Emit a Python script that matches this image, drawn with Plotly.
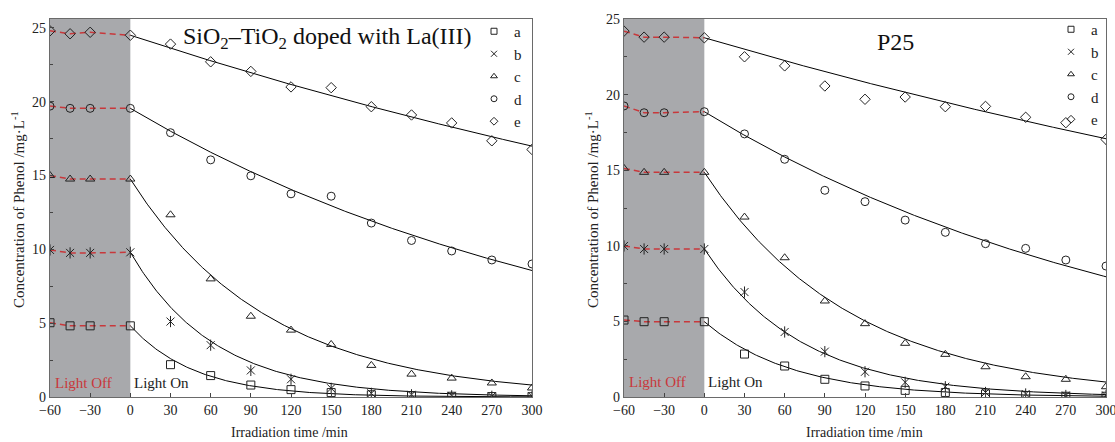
import numpy as np
import plotly.graph_objects as go

# ---------------- data ----------------
t_dark = [-60, -45, -30, 0]
t_light = [30, 60, 90, 120, 150, 180, 210, 240, 270, 300]
series = ["a", "b", "c", "d", "e"]
symbols = ["square-open", "x-thin-open", "triangle-up-open", "circle-open", "diamond-open"]

# Left panel: SiO2-TiO2 doped with La(III)
L_dark = {
    "a": [5.03, 4.82, 4.82, 4.82],
    "b": [9.96, 9.76, 9.76, 9.80],
    "c": [15.0, 14.76, 14.76, 14.76],
    "d": [19.7, 19.55, 19.55, 19.55],
    "e": [24.8, 24.6, 24.7, 24.5],
}
L_light = {
    "a": [2.19, 1.45, 0.81, 0.50, 0.30, 0.15, 0.08, 0.05, 0.03, 0.02],
    "b": [5.11, 3.51, 1.80, 1.20, 0.59, 0.25, 0.15, 0.08, 0.05, 0.05],
    "c": [12.34, 8.0, 5.47, 4.53, 3.56, 2.14, 1.55, 1.28, 0.95, 0.61],
    "d": [17.9, 16.06, 14.98, 13.76, 13.6, 11.78, 10.6, 9.89, 9.28, 9.01],
    "e": [23.9, 22.7, 22.05, 21.0, 20.95, 19.66, 19.1, 18.56, 17.35, 16.76],
}
L_k = {"a": 0.0206, "b": 0.0159, "c": 0.00968, "d": 0.00275, "e": 0.00122}

# Right panel: P25
R_dark = {
    "a": [5.09, 4.98, 4.98, 4.98],
    "b": [9.99, 9.79, 9.79, 9.79],
    "c": [15.12, 14.86, 14.86, 14.86],
    "d": [19.25, 18.8, 18.8, 18.87],
    "e": [24.2, 23.8, 23.8, 23.76],
}
R_light = {
    "a": [2.84, 2.05, 1.17, 0.73, 0.44, 0.30, 0.20, 0.10, 0.05, 0.05],
    "b": [6.94, 4.30, 3.00, 1.67, 0.97, 0.68, 0.30, 0.20, 0.10, 0.10],
    "c": [11.9, 9.21, 6.35, 4.85, 3.55, 2.82, 2.0, 1.34, 1.17, 0.68],
    "d": [17.4, 15.72, 13.67, 12.92, 11.7, 10.89, 10.14, 9.83, 9.06, 8.66],
    "e": [22.5, 21.9, 20.57, 19.69, 19.84, 19.2, 19.22, 18.5, 18.14, 17.04],
}
R_k = {"a": 0.0152, "b": 0.0137, "c": 0.00903, "d": 0.00288, "e": 0.0011}

x_ticks = [-60, -30, 0, 30, 60, 90, 120, 150, 180, 210, 240, 270, 300]

# ---------------- figure ----------------
W, H = 1115, 442
FONT = "Liberation Serif"
RED = "#c8383b"
INK = "#222"

def px(xp):
    return xp / W

def py(yp):
    return 1 - yp / H

fig = go.Figure()

panels = [
    ("x", "y", L_dark, L_light, L_k, "legend"),
    ("x2", "y2", R_dark, R_light, R_k, "legend2"),
]

t_fit = np.linspace(0, 300, 301)
for xa, ya, dark, light, kk, leg in panels:
    # dark phase dashed red
    for s in series:
        fig.add_trace(go.Scatter(x=t_dark, y=dark[s], xaxis=xa, yaxis=ya, mode="lines",
                                 line=dict(color=RED, width=1.5, dash="6px,4px"),
                                 showlegend=False, hoverinfo="skip"))
    # fitted first-order curves
    for s in series:
        c0 = dark[s][-1]
        fig.add_trace(go.Scatter(x=t_fit, y=c0 * np.exp(-kk[s] * t_fit), xaxis=xa, yaxis=ya,
                                 mode="lines", line=dict(color="black", width=1),
                                 showlegend=False, hoverinfo="skip"))
    # markers
    for s, sym in zip(series, symbols):
        fig.add_trace(go.Scatter(x=t_dark + t_light, y=dark[s] + light[s], xaxis=xa, yaxis=ya,
                                 mode="markers", showlegend=False,
                                 marker=dict(symbol=sym, size=8, color=INK,
                                             line=dict(width=1, color=INK))))
        if s == "b":  # six-armed asterisk: add the vertical bar
            fig.add_trace(go.Scatter(x=t_dark + t_light, y=dark[s] + light[s], xaxis=xa, yaxis=ya,
                                     mode="markers", showlegend=False, hoverinfo="skip",
                                     marker=dict(symbol="line-ns-open", size=8, color=INK,
                                                 line=dict(width=1, color=INK))))
        # compact legend entry
        fig.add_trace(go.Scatter(x=[None], y=[None], xaxis=xa, yaxis=ya, mode="markers",
                                 name=s, legend=leg,
                                 marker=dict(symbol=sym, size=6, color=INK,
                                             line=dict(width=1, color=INK))))

ydom = [py(397), py(19)]
axis_common = dict(showline=True, linecolor="#6a6a6a", linewidth=1.2, mirror=True,
                   ticks="inside", ticklen=4, tickcolor="#444", showgrid=False, zeroline=False,
                   automargin=False, ticklabeloverflow="allow",
                   tickfont=dict(family=FONT, size=14, color=INK))

leg_common = dict(xanchor="right", yanchor="top", bgcolor="rgba(0,0,0,0)",
                  font=dict(family=FONT, size=15, color=INK), itemwidth=30, tracegroupgap=0)

fig.update_layout(
    width=W, height=H, margin=dict(l=0, r=0, t=0, b=0, autoexpand=False),
    paper_bgcolor="white", plot_bgcolor="white",
    font=dict(family=FONT, color=INK),
    xaxis=dict(domain=[px(50), px(532)], range=[-60, 300], tickvals=x_ticks, anchor="y", **axis_common),
    yaxis=dict(domain=ydom, range=[0, 25.6], tickvals=[0, 5, 10, 15, 20, 25], anchor="x",
               minor=dict(dtick=2.5, ticks="inside", ticklen=3, tickcolor="#444"), **axis_common),
    xaxis2=dict(domain=[px(624), px(1106)], range=[-60, 300], tickvals=x_ticks, anchor="y2", **axis_common),
    yaxis2=dict(domain=ydom, range=[0, 25], tickvals=[0, 5, 10, 15, 20, 25], anchor="x2",
                minor=dict(dtick=2.5, ticks="inside", ticklen=3, tickcolor="#444"), **axis_common),
    legend=dict(x=px(527), y=py(15), **leg_common),
    legend2=dict(x=px(1104), y=py(13), **leg_common),
    showlegend=True,
)

# grey "light off" region
for xr, yr in [("x", "y"), ("x2", "y2")]:
    fig.add_shape(type="rect", xref=xr, yref=f"{yr} domain", x0=-60, x1=0, y0=0, y1=1,
                  fillcolor="#a8a9ac", line=dict(width=0), layer="below")

ann = []
for xr, yr in [("x", "y"), ("x2", "y2")]:
    ann.append(dict(x=-58, y=0.3, xref=xr, yref=yr, text="Light Off", showarrow=False,
                    xanchor="left", yanchor="bottom", font=dict(family=FONT, size=15, color=RED)))
    ann.append(dict(x=1, y=0.3, xref=xr, yref=yr, text="Light On", showarrow=False,
                    xanchor="left", yanchor="bottom", font=dict(family=FONT, size=15, color=INK)))

ann.append(dict(x=px(327), y=py(38), xref="paper", yref="paper", xanchor="center", yanchor="middle",
                text="SiO<sub>2</sub>–TiO<sub>2</sub> doped with La(III)", showarrow=False,
                font=dict(family=FONT, size=24, color="#111")))
ann.append(dict(x=px(895), y=py(42), xref="paper", yref="paper", xanchor="center", yanchor="middle",
                text="P25", showarrow=False, font=dict(family=FONT, size=24, color="#111")))
for cx in [px(290), px(864)]:
    ann.append(dict(x=cx, y=py(432), xref="paper", yref="paper", xanchor="center", yanchor="middle",
                    text="Irradiation time /min", showarrow=False,
                    font=dict(family=FONT, size=14, color=INK)))
for cx in [px(18), px(592)]:
    ann.append(dict(x=cx, y=py(210), xref="paper", yref="paper", xanchor="center", yanchor="middle",
                    text="Concentration of Phenol /mg·L<sup>-1</sup>", textangle=-90,
                    showarrow=False, font=dict(family=FONT, size=15, color=INK)))
fig.update_layout(annotations=ann)

fig.write_html("out.html")
